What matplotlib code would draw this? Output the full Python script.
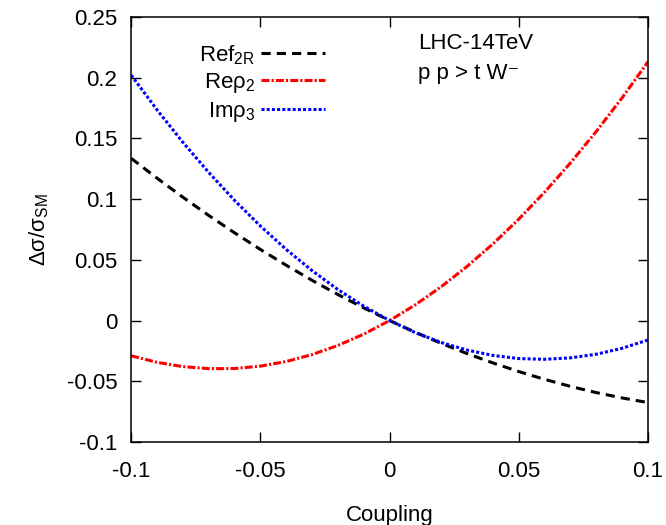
import matplotlib.pyplot as plt
import numpy as np

coupling = [-0.10, -0.09, -0.08, -0.07, -0.06, -0.05, -0.04, -0.03, -0.02, -0.01, 0.0,
            0.01, 0.02, 0.03, 0.04, 0.05, 0.06, 0.07, 0.08, 0.09, 0.10]

ref_f2r = [0.1335, 0.1172, 0.1015, 0.0865, 0.0722, 0.0585, 0.0455, 0.0331, 0.0214, 0.0104, 0.0,
           -0.0097, -0.0188, -0.0272, -0.0349, -0.0420, -0.0484, -0.0542, -0.0593, -0.0637, -0.0675]
re_rho2 = [-0.0290, -0.0344, -0.0379, -0.0396, -0.0395, -0.0375, -0.0337, -0.0280, -0.0205, -0.0112, 0.0,
           0.0130, 0.0279, 0.0446, 0.0631, 0.0835, 0.1057, 0.1298, 0.1557, 0.1834, 0.2130]
im_rho3 = [0.2020, 0.1734, 0.1467, 0.1219, 0.0989, 0.0778, 0.0585, 0.0411, 0.0255, 0.0118, 0.0,
           -0.0100, -0.0181, -0.0243, -0.0287, -0.0313, -0.0319, -0.0307, -0.0277, -0.0228, -0.0160]

xticks = [-0.1, -0.05, 0, 0.05, 0.1]
xtick_labels = ['-0.1', '-0.05', '0', '0.05', '0.1']
yticks = [-0.1, -0.05, 0, 0.05, 0.1, 0.15, 0.2, 0.25]
ytick_labels = ['-0.1', '-0.05', '0', '0.05', '0.1', '0.15', '0.2', '0.25']

plt.rcParams['font.family'] = ['Liberation Sans', 'DejaVu Sans']
plt.rcParams['mathtext.fontset'] = 'custom'
plt.rcParams['mathtext.rm'] = 'Liberation Sans'
plt.rcParams['mathtext.it'] = 'Liberation Sans'

fig = plt.figure(figsize=(6.66, 5.25), dpi=100)
ax = fig.add_axes([0.197, 0.158, 0.776, 0.810])

ax.plot(coupling, ref_f2r, color='black', lw=2.2, dashes=(3, 2),
        label=r'Ref$_{\mathregular{2R}}$')
ax.plot(coupling, re_rho2, color='red', lw=2.2, dashes=(2.6, 0.7, 0.7, 0.7),
        label=r'Re$\mathregular{\rho}_{\mathregular{2}}$')
ax.plot(coupling, im_rho3, color='blue', lw=2.2, dashes=(1, 0.7),
        label=r'Im$\mathregular{\rho}_{\mathregular{3}}$')

ax.set_xlim(-0.1, 0.1)
ax.set_ylim(-0.1, 0.25)
ax.set_xticks(xticks)
ax.set_xticklabels(xtick_labels)
ax.set_yticks(yticks)
ax.set_yticklabels(ytick_labels)
ax.tick_params(direction='in', length=7.5, width=1, top=True, right=True,
               labelsize=16)
ax.tick_params(axis='x', pad=14)
ax.tick_params(axis='y', pad=10)
for s in ax.spines.values():
    s.set_linewidth(1.1)

ax.set_xlabel('Coupling', fontsize=16, labelpad=16)
ax.set_ylabel(r'$\mathregular{\Delta\sigma/\sigma_{SM}}$', fontsize=16, labelpad=11)

ax.legend(loc='upper left', bbox_to_anchor=(0.093, 0.985), frameon=False,
          markerfirst=False, fontsize=16, handlelength=2.9, handletextpad=0.25,
          labelspacing=0.2)

ax.text(0.555, 0.938, 'LHC-14TeV', transform=ax.transAxes, fontsize=16, va='center')
ax.text(0.555, 0.866, 'p p > t W\u207b', transform=ax.transAxes,
        fontsize=16, va='center')

fig.savefig('out.png', dpi=100)
